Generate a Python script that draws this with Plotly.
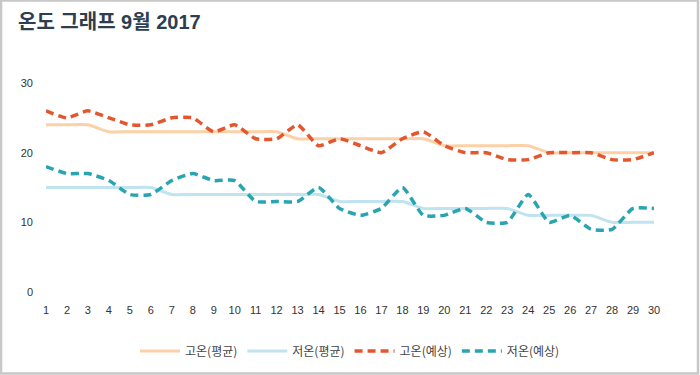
import plotly.graph_objects as go

days = list(range(1, 31))
high_avg = [24, 24, 24, 23, 23, 23, 23, 23, 23, 23, 23, 23, 22, 22, 22, 22, 22, 22, 22, 21,
            21, 21, 21, 21, 20, 20, 20, 20, 20, 20]
low_avg = [15, 15, 15, 15, 15, 15, 14, 14, 14, 14, 14, 14, 14, 14, 13, 13, 13, 13, 12, 12,
           12, 12, 12, 11, 11, 11, 11, 10, 10, 10]
high_fc = [26, 25, 26, 25, 24, 24, 25, 25, 23, 24, 22, 22, 24, 21, 22, 21, 20, 22, 23, 21,
           20, 20, 19, 19, 20, 20, 20, 19, 19, 20]
low_fc = [18, 17, 17, 16, 14, 14, 16, 17, 16, 16, 13, 13, 13, 15, 12, 11, 12, 15, 11, 11,
          12, 10, 10, 14, 10, 11, 9, 9, 12, 12]

W, H = 700, 375
PL, PR, PT, PB = 46, 654, 83, 292  # plot area in pixels

fig = go.Figure()
series = [
    ("고온(평균)", high_avg, "#fdd1a7", "solid", 3),
    ("저온(평균)", low_avg, "#bfe4ef", "solid", 3),
    ("고온(예상)", high_fc, "#e4572e", "8px,5px", 3.5),
    ("저온(예상)", low_fc, "#29a5b2", "8px,5px", 3.5),
]
for name, vals, color, dash, w in series:
    fig.add_trace(go.Scatter(
        x=days, y=vals, name=name, mode="lines",
        line=dict(color=color, width=w, dash=dash, shape="spline", smoothing=0.5),
        hoverinfo="x+y+name",
    ))

fig.add_shape(type="rect", xref="paper", yref="paper",
              x0=1 / W, x1=(W - 2) / W, y0=1.5 / H, y1=(H - 0.5) / H,
              line=dict(color="#c8c8c8", width=2.5), layer="above")

fig.update_layout(
    width=W, height=H,
    margin=dict(l=0, r=0, t=0, b=0, autoexpand=False),
    paper_bgcolor="white", plot_bgcolor="white",
    font=dict(family="Liberation Sans, Noto Sans CJK KR, sans-serif", size=11, color="#333333"),
    title=dict(text="<b>온도 그래프 9월 2017</b>", x=18 / W, xanchor="left",
               y=1 - 22 / H, yanchor="middle", automargin=False,
               font=dict(family="Liberation Sans, Noto Sans CJK KR, sans-serif", size=20, color="#2c3e50")),
    xaxis=dict(domain=[PL / W, PR / W], range=[1, 30], tickmode="array", tickvals=days,
               ticktext=[str(d) for d in days], showgrid=False, zeroline=False, showline=False,
               ticks="", ticklabelstandoff=10, fixedrange=True, automargin=False),
    yaxis=dict(domain=[(H - PB) / H, (H - PT) / H], range=[0, 30], tickvals=[0, 10, 20, 30],
               showgrid=False, zeroline=False, showline=False, ticks="", ticklabelstandoff=12,
               fixedrange=True, automargin=False),
    legend=dict(orientation="h", x=0.5, xanchor="center", y=(H - 351) / H, yanchor="middle",
                font=dict(family="Noto Sans CJK KR, sans-serif", size=12, color="#444444"),
                itemwidth=40, tracegroupgap=0),
    showlegend=True,
)

fig.write_html("out.html", config={"displayModeBar": False},
               post_script="document.body.style.margin='0';document.body.style.overflow='hidden';")
